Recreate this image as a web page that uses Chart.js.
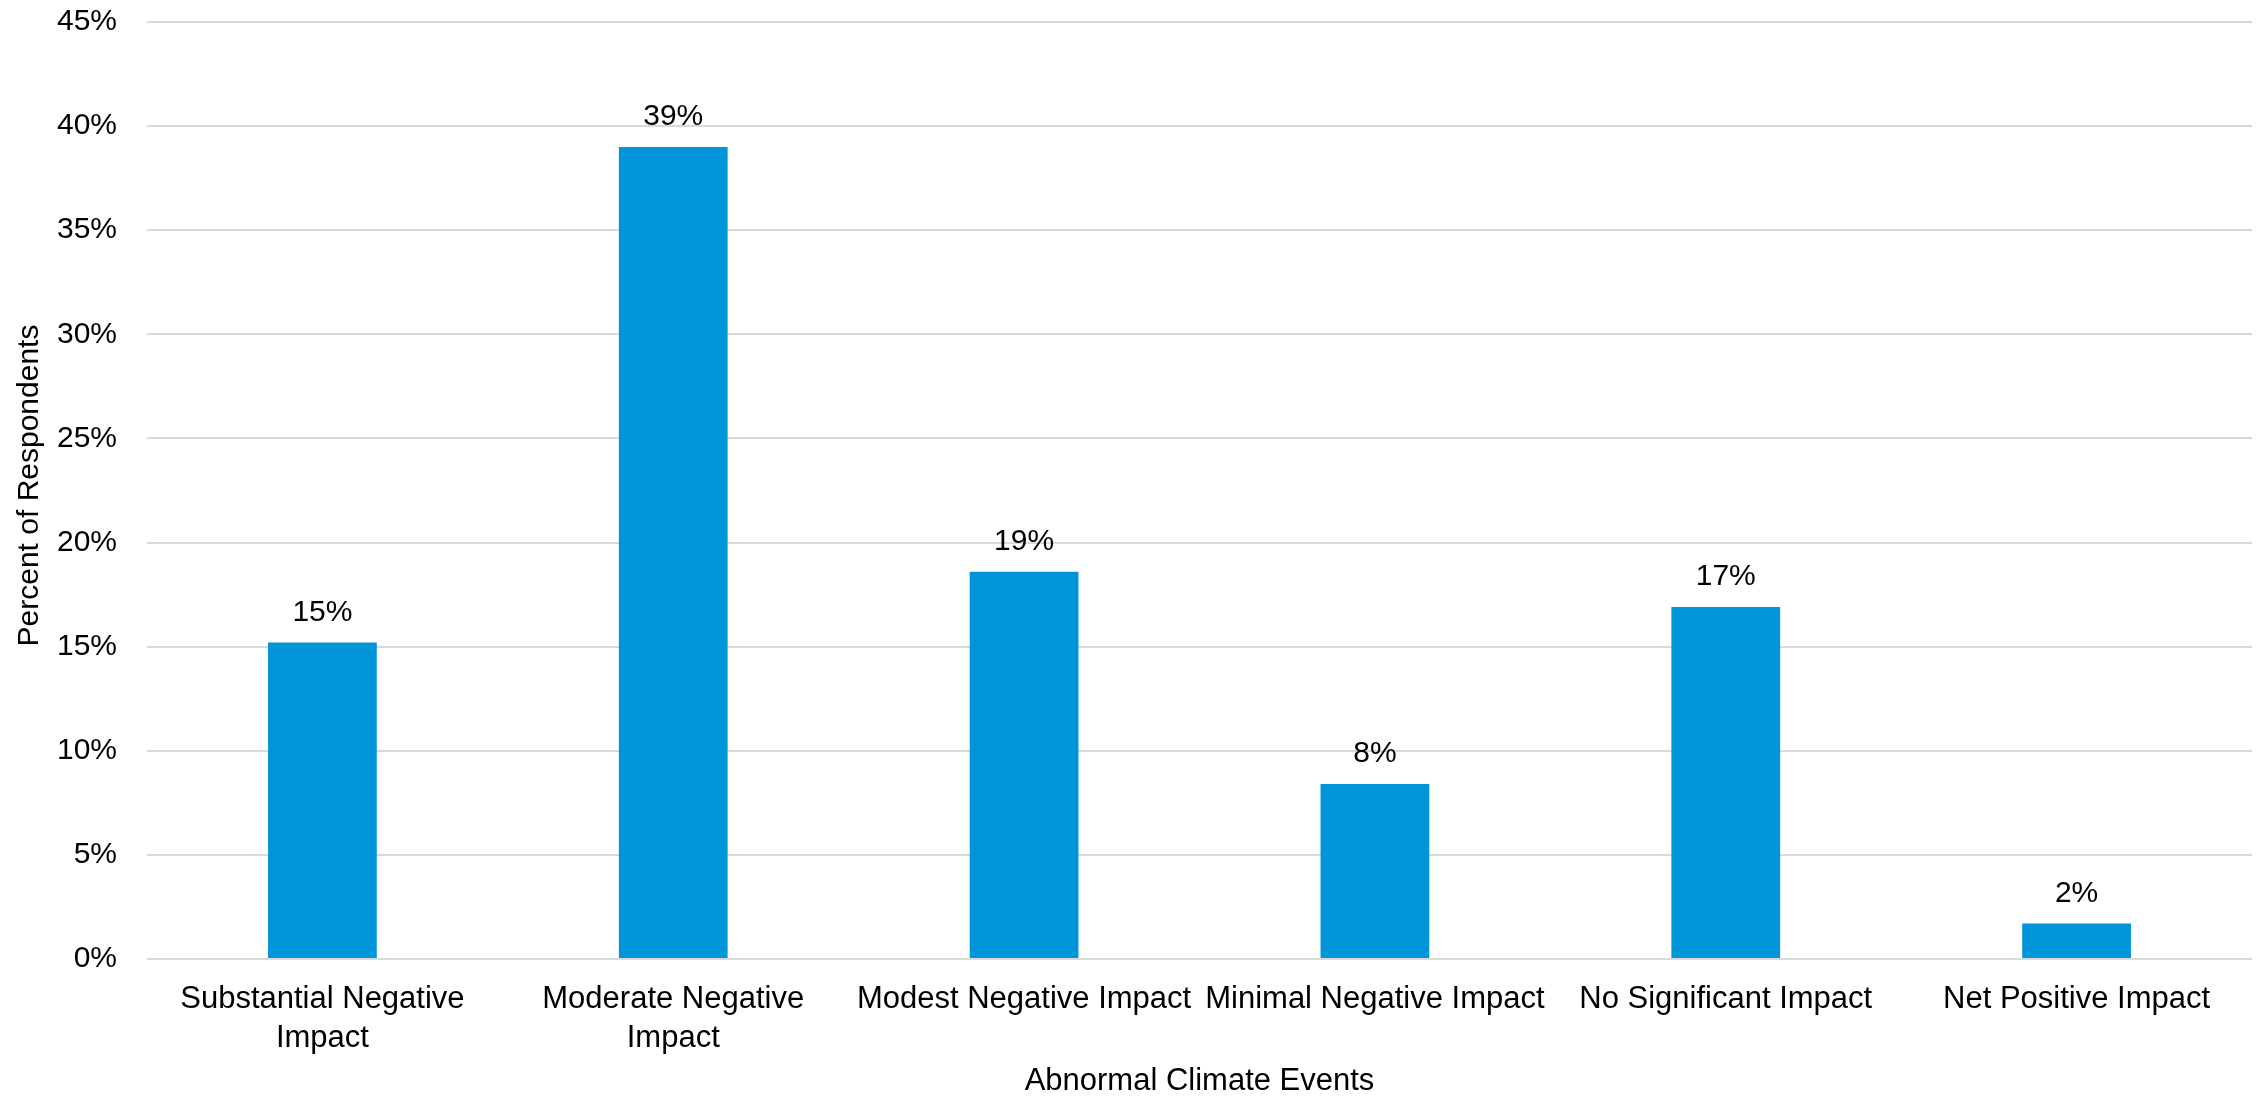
<!DOCTYPE html>
<html>
<head>
<meta charset="utf-8">
<title>Abnormal Climate Events</title>
<script src="https://cdn.jsdelivr.net/npm/chart.js@4/dist/chart.umd.min.js"></script>
<style>
  html, body { margin: 0; padding: 0; background: #ffffff; }
  #wrap { width: 2260px; height: 1100px; }
</style>
</head>
<body>
<div id="wrap"><canvas id="chart" width="2260" height="1100"></canvas></div>
<script>
// Survey responses: impact of abnormal climate events
const categories = [
  ["Substantial Negative", "Impact"],
  ["Moderate Negative", "Impact"],
  "Modest Negative Impact",
  "Minimal Negative Impact",
  "No Significant Impact",
  "Net Positive Impact"
];
const respondentShare = [15.2, 39.0, 18.6, 8.4, 16.9, 1.7];
const yTicks = [0, 5, 10, 15, 20, 25, 30, 35, 40, 45];
const yTitle = "Percent of Respondents";

const FONT = "'Liberation Sans', Arial, sans-serif";
const TEXT = "#000000";

// Writes the rounded percentage above each bar
const barValueLabels = {
  id: "barValueLabels",
  afterDatasetsDraw(chart) {
    const ctx = chart.ctx;
    const meta = chart.getDatasetMeta(0);
    const values = chart.data.datasets[0].data;
    ctx.save();
    ctx.font = "30px " + FONT;
    ctx.fillStyle = TEXT;
    ctx.textAlign = "center";
    ctx.textBaseline = "middle";
    meta.data.forEach((bar, i) => {
      ctx.fillText(Math.round(values[i]) + "%", bar.x, bar.y - 30);
    });
    ctx.restore();
  }
};

// Vertical axis title, centred on the plot height
const verticalTitle = {
  id: "verticalTitle",
  afterDraw(chart) {
    const ctx = chart.ctx;
    const area = chart.chartArea;
    ctx.save();
    ctx.translate(30, (area.top + area.bottom) / 2 - 5);
    ctx.rotate(-Math.PI / 2);
    ctx.font = "30px " + FONT;
    ctx.fillStyle = TEXT;
    ctx.textAlign = "center";
    ctx.textBaseline = "middle";
    ctx.fillText(yTitle, 0, 0);
    ctx.restore();
  }
};

new Chart(document.getElementById("chart"), {
  type: "bar",
  data: {
    labels: categories,
    datasets: [{
      data: respondentShare,
      backgroundColor: "#0095d9",
      borderWidth: 0,
      categoryPercentage: 1.0,
      barPercentage: 0.31
    }]
  },
  options: {
    responsive: false,
    animation: false,
    layout: { padding: { top: 0, right: 8, left: 0, bottom: 0 } },
    plugins: {
      legend: { display: false },
      tooltip: { enabled: false }
    },
    scales: {
      x: {
        grid: { display: false, drawTicks: false },
        border: { display: false },
        ticks: {
          color: TEXT,
          font: { family: FONT, size: 31, lineHeight: 1.25 },
          padding: 21,
          maxRotation: 0,
          minRotation: 0,
          autoSkip: false
        },
        title: {
          display: true,
          text: "Abnormal Climate Events",
          color: TEXT,
          font: { family: FONT, size: 31, lineHeight: 1.2 },
          padding: { top: 0, bottom: 0 }
        },
        afterFit(scale) { scale.height = 141; }
      },
      y: {
        min: 0,
        max: 45,
        afterBuildTicks(scale) { scale.ticks = yTicks.map(v => ({ value: v })); },
        grid: { color: "#d9d9d9", lineWidth: 2, drawTicks: false },
        border: { display: false },
        ticks: {
          color: TEXT,
          font: { family: FONT, size: 30, lineHeight: 1.0 },
          padding: 30,
          callback: v => v + "%"
        },
        afterFit(scale) {
          scale.width = 147;
          scale.paddingTop = 22;
        }
      }
    }
  },
  plugins: [barValueLabels, verticalTitle]
});
</script>
</body>
</html>
